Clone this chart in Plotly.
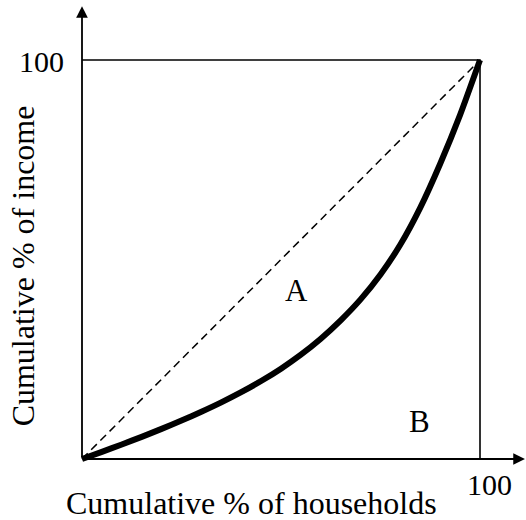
import plotly.graph_objects as go

# Lorenz curve data (cumulative % of households vs cumulative % of income)
households = [0, 5, 10, 15, 20, 25, 30, 35, 40, 45, 50, 55, 60, 65, 70, 75, 80, 85, 90, 95, 100]
income = [0, 1.8, 3.65, 5.55, 7.55, 9.65, 11.85, 14.2, 16.75, 19.55, 22.65, 26.15, 30.15,
          34.75, 40.0, 46.25, 53.75, 63, 74, 86.25, 100]
equality_x = [0, 100]
equality_y = [0, 100]
box_x = [0, 100, 100]
box_y = [100, 100, 0]
tick_label = "100"
x_title = "Cumulative % of households"
y_title = "Cumulative % of income"
region_labels = ["A", "B"]
region_x = [54.0, 84.7]
region_y = [42.2, 9.3]

FONT = "Liberation Serif"

fig = go.Figure()
fig.add_trace(go.Scatter(x=box_x, y=box_y, mode="lines",
                         line=dict(color="black", width=1.6), hoverinfo="skip"))
fig.add_trace(go.Scatter(x=equality_x, y=equality_y, mode="lines",
                         line=dict(color="black", width=1.5, dash="8px,5px"), hoverinfo="skip"))
fig.add_trace(go.Scatter(x=households, y=income, mode="lines",
                         line=dict(color="black", width=6, shape="spline", smoothing=0.6),
                         hoverinfo="skip"))

# axes with arrows
fig.add_annotation(x=111.3, y=0, ax=0, ay=0, xref="x", yref="y", axref="x", ayref="y",
                   text="", showarrow=True, arrowhead=2, arrowsize=1.3, arrowwidth=1.8,
                   arrowcolor="black")
fig.add_annotation(x=0, y=113.5, ax=0, ay=0, xref="x", yref="y", axref="x", ayref="y",
                   text="", showarrow=True, arrowhead=2, arrowsize=1.3, arrowwidth=1.8,
                   arrowcolor="black")

for t, xx, yy in zip(region_labels, region_x, region_y):
    fig.add_annotation(x=xx, y=yy, text=t, showarrow=False,
                       font=dict(family=FONT, size=31, color="black"))

fig.add_annotation(x=-10.3, y=99.5, text=tick_label, showarrow=False,
                   font=dict(family=FONT, size=30, color="black"))
fig.add_annotation(x=102.4, y=-6.5, text=tick_label, showarrow=False,
                   font=dict(family=FONT, size=30, color="black"))
fig.add_annotation(x=42.5, y=-11.0, text=x_title, showarrow=False,
                   font=dict(family=FONT, size=32, color="black"))
fig.add_annotation(x=-14.6, y=48.5, text=y_title, showarrow=False, textangle=-90,
                   font=dict(family=FONT, size=32, color="black"))

fig.update_layout(
    width=526, height=520,
    margin=dict(l=0, r=0, t=0, b=0),
    paper_bgcolor="white", plot_bgcolor="white",
    showlegend=False, hovermode=False,
    xaxis=dict(range=[-82 / 3.98, 444 / 3.98], visible=False, fixedrange=True),
    yaxis=dict(range=[-61 / 3.99, 459 / 3.99], visible=False, fixedrange=True),
)

fig.write_html("out.html", config={"displayModeBar": False},
               post_script="document.body.style.margin='0px';")
